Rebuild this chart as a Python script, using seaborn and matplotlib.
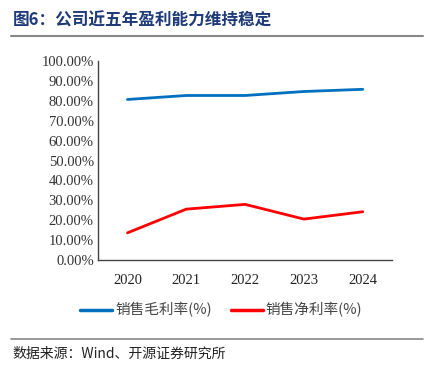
"""Gross and net margin over five years."""
import matplotlib
matplotlib.use("Agg")
import matplotlib.pyplot as plt
import numpy as np
import pandas as pd
import seaborn as sns

years = ["2020", "2021", "2022", "2023", "2024"]
gross_margin = [0.807, 0.827, 0.827, 0.847, 0.858]
net_margin = [0.137, 0.256, 0.280, 0.206, 0.243]
series_names = ["销售毛利率(%)", "销售净利率(%)"]
y_ticks = np.arange(0, 1.01, 0.1)

sns.set_style("white")
plt.rcParams["font.family"] = ["Liberation Serif", "Noto Sans CJK SC"]
cjk = ["Noto Sans CJK SC", "DejaVu Sans"]

df = pd.DataFrame({
    "year": years * 2,
    "value": gross_margin + net_margin,
    "series": [series_names[0]] * len(years) + [series_names[1]] * len(years),
})
df["x"] = list(range(len(years))) * 2

fig = plt.figure(figsize=(4.3, 3.7), dpi=100)
ax = fig.add_axes([0.228, 0.297, 0.684, 0.538])

sns.lineplot(data=df, x="x", y="value", hue="series",
             palette=["#0070C0", "#FF0000"], linewidth=2.0, ax=ax, legend=False)

ax.set_xlim(-0.5, len(years) - 0.5)
ax.set_ylim(0, 1)
ax.set_yticks(y_ticks)
ax.set_yticklabels([f"{v * 100:.2f}%" for v in y_ticks], fontsize=10.5, color="#333333")
ax.set_xticks(np.arange(-0.5, len(years)), minor=False)
ax.set_xticklabels([])
ax.set_xticks(range(len(years)), minor=True)
ax.set_xticklabels(years, minor=True, fontsize=10.5, color="#222222")
ax.tick_params(axis="x", which="major", direction="in", length=4, color="#444444")
ax.tick_params(axis="x", which="minor", length=0, pad=10)
ax.tick_params(axis="y", direction="in", length=4, color="#444444", pad=3)
ax.set_xlabel("")
ax.set_ylabel("")
for side in ["top", "right"]:
    ax.spines[side].set_visible(False)
for side in ["left", "bottom"]:
    ax.spines[side].set_color("#444444")
    ax.spines[side].set_linewidth(1.0)

# legend
handles = [plt.Line2D([], [], color=c, lw=2.5) for c in ["#0070C0", "#FF0000"]]
fig.legend(handles, series_names, loc="center", bbox_to_anchor=(0.515, 0.162),
           ncol=2, frameon=False, prop={"family": cjk, "size": 10.5},
           handlelength=2.2, columnspacing=1.3, handletextpad=0.2,
           labelcolor="#444444")

# title and source
fig.text(0.03, 0.945, "图6：公司近五年盈利能力维持稳定", family=cjk, fontsize=12,
         fontweight="bold", color="#1F3A78", va="center")
fig.add_artist(plt.Line2D([0.026, 0.984], [0.903, 0.903], color="#888888", lw=1.5))
fig.add_artist(plt.Line2D([0.026, 0.984], [0.084, 0.084], color="#888888", lw=1.2))
fig.text(0.03, 0.045, "数据来源：Wind、开源证券研究所", family=cjk, fontsize=10,
         color="#222222", va="center")

fig.savefig("out.png", dpi=100)
